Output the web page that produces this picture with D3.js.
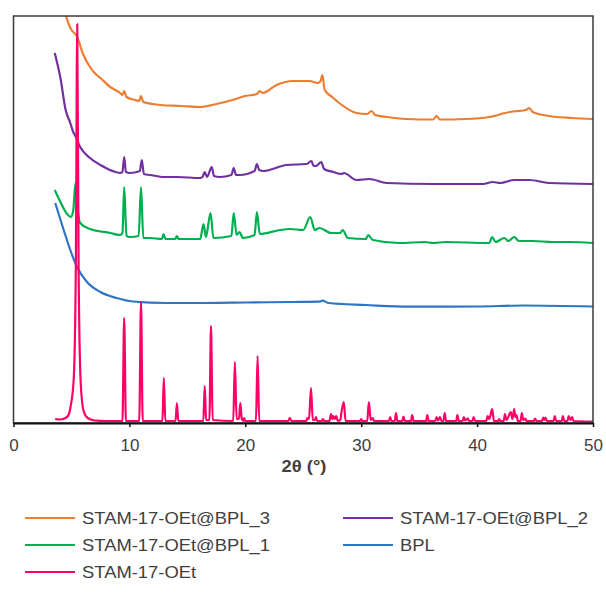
<!DOCTYPE html>
<html>
<head>
<meta charset="utf-8">
<script src="https://cdn.jsdelivr.net/npm/d3@7"></script>
<style>
  body { margin: 0; background: #fff; }
  text { font-family: "Liberation Sans", Arial, sans-serif; }
</style>
</head>
<body>
<div class="canvas"></div>
<script>
// x axis ticks (2 theta, degrees)
const xTicks = [0, 10, 20, 30, 40, 50];

// series names in legend order
const seriesNames = ['STAM-17-OEt@BPL_3', 'STAM-17-OEt@BPL_2', 'STAM-17-OEt@BPL_1', 'BPL', 'STAM-17-OEt'];

// intensities (a.u., offset as stacked in the figure), [2theta, intensity]
const bpl3 = [
  [4.45,410],[4.9,395],[5.5,386],[6.0,369],[6.6,356],[7.0,350],[7.5,345],[8.35,336],[9.2,330],[9.4,328],[9.55,332],
  [9.75,326],[10.5,323],[10.85,322],[11.0,327],[11.2,321],[12.0,319],[12.65,318],[14.5,317],[16.1,316],[17.5,319],
  [18.9,323],[20.0,327],[21.0,329],[21.25,332],[21.5,330],[22.7,338],[24.1,342],[25.55,342],[26.25,340],[26.5,342],
  [26.65,348],[26.85,333],[27.5,326],[28.1,320],[29.6,310],[30.5,309],[30.9,312],[31.2,308],[32.2,306],[33.9,304],
  [36.2,303.5],[36.5,307],[36.8,303.5],[39.0,304],[41.05,306],[42.8,311],[44.2,313],[44.5,315],[44.8,311],
  [46.2,307],[48.2,305],[50,304]
];
const bpl2 = [
  [3.56,370],[4.05,345],[4.5,313],[4.9,300],[5.15,291],[5.3,288],[5.75,276],[6.6,265],[7.5,258],[8.8,251],
  [9.2,250],[9.4,251],[9.55,266],[9.7,251],[10.05,250],[10.9,252],[11.07,263],[11.25,249],[11.8,248],[13.0,246],
  [14.1,246],[16.1,245],[16.3,246],[16.5,251],[16.7,246],[17.1,256],[17.3,247],[17.8,246],[18.8,248],[19.0,255],
  [19.2,248],[19.5,248],[20.8,252],[21.0,259],[21.2,253],[21.55,252],[23.55,258],[25.3,259],[25.7,262],[25.9,257],
  [26.1,257],[26.55,261],[26.8,254],[27.6,251],[28.3,249],[28.5,250],[29.6,243],[30.7,244],[32.2,240],[36.2,239],
  [40.5,239],[41.35,241],[42.0,240],[43.2,243],[44.5,243],[46.2,240],[50,239]
];
const bpl1 = [
  [3.56,233],[4.05,221],[4.7,208],[4.95,206],[5.15,212],[5.35,240],[5.55,212],[5.75,200],[6.6,194],[8.35,190],
  [9.2,188],[9.4,190],[9.55,236],[9.75,187],[10.05,186],[10.8,187],[11.0,236],[11.2,185],[11.8,185],[12.8,184],
  [12.95,189],[13.1,184],[13.5,184],[13.95,184],[14.1,187],[14.25,184],[16.1,184],[16.4,199],[16.6,186],[17.0,210],
  [17.25,185],[18.8,187],[19.0,210],[19.25,188],[19.5,191],[19.8,185],[20.8,188],[21.0,211],[21.25,189],[23.0,193],
  [23.85,194],[25.0,193],[25.6,206],[26.0,193],[26.4,195],[27.4,190],[28.2,190],[28.4,193],[28.85,185],[30.4,184],
  [30.6,188],[31.0,183],[33.3,180],[35.5,181],[36.2,180],[37.3,181],[41.05,180],[41.3,186],[41.6,181],[42.35,185],
  [42.7,182],[43.2,186],[43.6,182],[44.8,182],[46.5,181],[48,181],[50,180]
];
const bpl = [
  [3.6,220],[4.33,193],[4.9,173],[5.48,156],[6.34,141],[7.49,131],[8.9,125],[10.3,121.5],
  [13.2,120],[16.1,120],[20,120.5],[24,121],[26.4,121.3],[26.65,122.3],[27.2,120],[30.4,118],[34.2,116.3],
  [40,116.5],[44,117.5],[50,116.5]
];
const stam = [
  [3.6,4],[4.0,3.5],[4.4,4.5],[4.7,7],[4.95,18],[5.2,45],[5.38,160],[5.5,399],[5.62,150],[5.8,40],[6.05,12],
  [6.4,5],[7.0,2.5],[8.0,2],
  [9.4,2],[9.55,105],[9.7,2],[10.85,2],[11.0,121],[11.15,2],[12.85,2],[12.97,45],[13.1,2],[13.98,2],[14.1,20],[14.22,2],
  [16.38,2],[16.5,37],[16.62,3],[16.9,3],[17.04,97],[17.18,3],
  [18.96,2],[19.1,61],[19.25,4],[19.45,4],[19.57,20],[19.7,4],[19.82,2],[19.9,5],[20.0,2],
  [20.92,2],[21.06,67],[21.2,2],[23.7,2],[23.84,5],[23.98,2],
  [25.25,2],[25.36,5],[25.5,4],[25.67,35],[25.82,3],[26.0,3],[26.1,6],[26.2,2],[26.6,2],[26.7,4],[26.8,2],
  [27.25,2],[27.4,9],[27.5,4],[27.6,7],[27.72,4],[27.85,7],[27.98,2],[28.2,3],[28.3,11],[28.5,21],[28.65,2],
  [29.9,2],[30.0,4],[30.1,2],[30.52,2],[30.66,21],[30.82,3],[31.0,5],[31.12,2],
  [32.4,2],[32.5,6],[32.6,2],[32.9,2],[33.0,10],[33.12,2],[33.55,2],[33.65,6.5],[33.75,2],[34.3,2],[34.4,8],[34.52,2],
  [35.6,2],[35.7,8],[35.82,2],[36.4,2],[36.5,6],[36.62,2.5],[36.8,6],[36.92,2],[37.1,2],[37.2,10],[37.32,2],
  [38.2,2],[38.3,8],[38.42,2],[38.75,2],[38.85,6],[38.97,2.5],[39.2,4.5],[39.32,2],[39.6,2],[39.7,6],[39.82,2],
  [40.8,2],[40.9,7],[41.05,4],[41.3,14],[41.45,2],[41.8,2],[41.9,4],[42.0,2],
  [42.3,2],[42.4,9],[42.55,3],[42.9,11],[43.05,4],[43.2,14],[43.3,6],[43.4,8],[43.52,2],[43.75,2],[43.86,10],
  [43.98,3],[44.15,4.5],[44.27,2],[44.9,2],[45.0,4.5],[45.12,2],[45.6,2],[45.7,5.5],[45.8,3],[45.9,5.5],[46.02,2],
  [46.6,2],[46.7,7],[46.82,2],[47.3,2],[47.4,7],[47.52,2],[47.8,2],[47.9,7],[48.05,3],[48.2,6],[48.32,2],[50,1.5]
];

const seriesData = [bpl3, bpl2, bpl1, bpl, stam];
const colors = ['#ED7D31', '#7030A0', '#00B050', '#2E75C6', '#FF0066'];

const svg = d3.select('.canvas')
    .append('svg')
    .attr('width', 606)
    .attr('height', 596);

// plot box
const box = {left: 13.5, right: 593, top: 16, bottom: 423};

const x = d3.scaleLinear()
    .domain([0, 50])
    .range([box.left, box.right]);

const y = d3.scaleLinear()
    .domain([0, 407])
    .range([box.bottom, box.top]);

svg.append('clipPath')
    .attr('id', 'plotclip')
  .append('rect')
    .attr('x', box.left)
    .attr('y', box.top)
    .attr('width', box.right - box.left)
    .attr('height', box.bottom - box.top);

const line = d3.line()
    .x(d => x(d[0]))
    .y(d => y(d[1]))
    .curve(d3.curveMonotoneX);

svg.append('g')
    .attr('clip-path', 'url(#plotclip)')
  .selectAll('path')
  .data(seriesData)
  .enter()
  .append('path')
    .attr('d', line)
    .attr('fill', 'none')
    .attr('stroke', (d, i) => colors[i])
    .attr('stroke-width', 2.2)
    .attr('stroke-linejoin', 'round');

// border
svg.append('rect')
    .attr('x', box.left)
    .attr('y', box.top)
    .attr('width', box.right - box.left)
    .attr('height', box.bottom - box.top)
    .attr('fill', 'none')
    .attr('stroke', '#3a3a3a')
    .attr('stroke-width', 1.5);

// x axis
const xAxis = d3.axisBottom(x)
    .tickValues(xTicks)
    .tickSize(4)
    .tickSizeOuter(0)
    .tickPadding(12);

const xAxisGroup = svg.append('g')
    .attr('transform', `translate(0, ${box.bottom})`)
    .call(xAxis);

xAxisGroup.select('.domain')
    .attr('stroke', '#111')
    .attr('stroke-width', 2);
xAxisGroup.selectAll('.tick line')
    .attr('stroke', '#111')
    .attr('stroke-width', 1.5);
xAxisGroup.selectAll('.tick text')
    .attr('font-size', 17)
    .attr('font-family', '"Liberation Sans", Arial, sans-serif')
    .attr('fill', '#404040');

svg.append('text')
    .attr('transform', 'translate(304, 472) scale(1.15, 1)')
    .attr('text-anchor', 'middle')
    .attr('font-size', 16)
    .attr('font-weight', 'bold')
    .attr('fill', '#404040')
    .text('2θ (°)');

// legend, two columns
const legend = svg.append('g');
const colX = [25, 343];
const rowY = [518, 545, 572];

seriesNames.forEach((name, i) => {
  const lx = colX[i % 2];
  const ly = rowY[Math.floor(i / 2)];
  legend.append('line')
      .attr('x1', lx)
      .attr('x2', lx + 50)
      .attr('y1', ly)
      .attr('y2', ly)
      .attr('stroke', colors[i])
      .attr('stroke-width', 2);
  legend.append('text')
      .attr('transform', `translate(${lx + 57}, ${ly + 6}) scale(1.15, 1)`)
      .attr('font-size', 16)
      .attr('fill', '#404040')
      .text(name);
});
</script>
</body>
</html>
